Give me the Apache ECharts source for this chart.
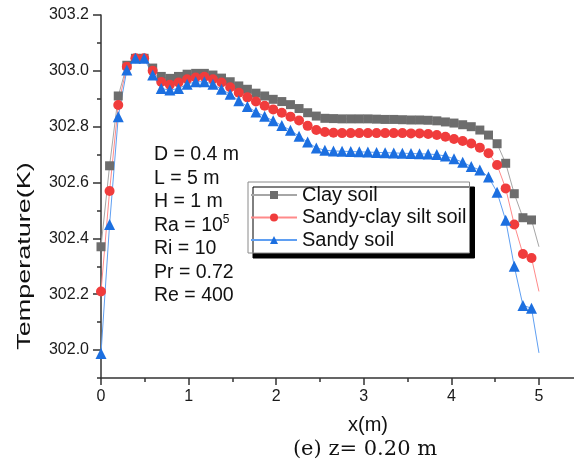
<!DOCTYPE html>
<html><head><meta charset="utf-8">
<script src="https://cdn.jsdelivr.net/npm/echarts@6/dist/echarts.min.js"></script>
<style>html,body{margin:0;padding:0;background:#fff}#c{width:574px;height:464px}</style>
</head><body><div id="c"></div>
<script>
const xs = [0, 0.098, 0.197, 0.295, 0.393, 0.492, 0.590, 0.688, 0.786, 0.885,
  0.983, 1.081, 1.180, 1.278, 1.376, 1.475, 1.573, 1.671, 1.769, 1.868,
  1.966, 2.064, 2.163, 2.261, 2.359, 2.458, 2.556, 2.654, 2.752, 2.851,
  2.949, 3.047, 3.146, 3.244, 3.342, 3.441, 3.539, 3.637, 3.735, 3.834,
  3.932, 4.030, 4.129, 4.227, 4.325, 4.424, 4.522, 4.620, 4.718, 4.817,
  4.915, 5.0];
const clay = [302.37, 302.66, 302.91, 303.02, 303.045, 303.045, 303.01, 302.98, 302.973, 302.98,
  302.988, 302.991, 302.991, 302.985, 302.974, 302.961, 302.946, 302.934, 302.92, 302.91,
  302.898, 302.89, 302.879, 302.865, 302.85, 302.838, 302.83, 302.829, 302.828, 302.828,
  302.828, 302.828, 302.827, 302.826, 302.826, 302.825, 302.824, 302.824, 302.823, 302.821,
  302.817, 302.813, 302.807, 302.80, 302.788, 302.77, 302.739, 302.669, 302.56, 302.474,
  302.466, 302.37];
const sandyClay = [302.21, 302.57, 302.878, 303.015, 303.045, 303.045, 303.0, 302.96, 302.95, 302.958,
  302.97, 302.976, 302.979, 302.97, 302.958, 302.941, 302.922, 302.905, 302.89, 302.875,
  302.862, 302.85, 302.836, 302.822, 302.803, 302.788, 302.781, 302.778, 302.777, 302.777,
  302.777, 302.777, 302.777, 302.777, 302.777, 302.777, 302.776, 302.776, 302.774, 302.77,
  302.764, 302.756, 302.749, 302.74, 302.725, 302.705, 302.663, 302.579, 302.45, 302.344,
  302.33, 302.21];
const sandy = [301.988, 302.45, 302.836, 303.003, 303.045, 303.045, 302.985, 302.937, 302.931, 302.937,
  302.952, 302.961, 302.961, 302.952, 302.934, 302.916, 302.893, 302.872, 302.853, 302.837,
  302.821, 302.804, 302.787, 302.766, 302.745, 302.724, 302.716, 302.713, 302.712, 302.711,
  302.71, 302.709, 302.708, 302.707, 302.706, 302.705, 302.704, 302.703, 302.702, 302.70,
  302.695, 302.685, 302.673, 302.657, 302.645, 302.62, 302.565, 302.465, 302.30, 302.16,
  302.15, 301.99];
const seriesNames = ['Clay soil', 'Sandy-clay silt soil', 'Sandy soil'];
const yTickLabels = [302.0, 302.2, 302.4, 302.6, 302.8, 303.0, 303.2];
const xTickLabels = [0, 1, 2, 3, 4, 5];
const xMinorTicks = [0, 0.5, 1, 1.5, 2, 2.5, 3, 3.5, 4, 4.5, 5];
const notes = ['D = 0.4 m', 'L = 5 m', 'H = 1 m', 'Ra = 10{sup|5}', 'Ri = 10', 'Pr = 0.72', 'Re = 400'];
const yTitle = 'Temperature(K)';
const xTitle = 'x(m)';
const caption = '(e) z= 0.20 m';

const FONT = '"Liberation Sans", Arial, sans-serif';
const AX = '#333';

function toData(ys) {
  return ys.map((y, i) => i === ys.length - 1 ? { value: [xs[i], y], symbol: 'none' } : [xs[i], y]);
}
function mk(name, ys, symbol, size, markColor, lineColor) {
  return {
    name, type: 'line', data: toData(ys), symbol, symbolSize: size,
    showAllSymbol: true, clip: false,
    lineStyle: { color: lineColor, width: 1 },
    itemStyle: { color: markColor, borderWidth: 0 },
    emphasis: { disabled: true }
  };
}

const chart = echarts.init(document.getElementById('c'), null, { renderer: 'canvas' });
chart.setOption({
  animation: false,
  backgroundColor: '#fff',
  grid: { left: 101, top: 15, right: 0, bottom: 86, containLabel: false },
  xAxis: [{
    type: 'value', min: 0, max: 5.4,
    axisLine: { show: true, lineStyle: { color: AX, width: 1.5 } },
    axisTick: { show: true, length: 7, customValues: xTickLabels, lineStyle: { color: AX, width: 1.5 } },
    splitLine: { show: false },
    axisLabel: { fontSize: 16, fontFamily: FONT, color: '#1a1a1a', margin: 11,
      customValues: xTickLabels, formatter: v => String(v) }
  }, {
    type: 'value', min: 0, max: 5.4, position: 'bottom',
    axisLine: { show: false },
    axisTick: { show: true, length: 4, customValues: xMinorTicks, lineStyle: { color: AX, width: 1.5 } },
    axisLabel: { show: false },
    splitLine: { show: false }
  }],
  yAxis: [{
    type: 'value', min: 301.9, max: 303.2,
    axisLine: { show: true, lineStyle: { color: AX, width: 1.5 } },
    axisTick: { show: true, length: 8, customValues: yTickLabels, lineStyle: { color: AX, width: 1.5 } },
    splitLine: { show: false },
    axisLabel: { fontSize: 16, fontFamily: FONT, color: '#1a1a1a', margin: 12,
      customValues: yTickLabels, formatter: v => v.toFixed(1) }
  }, {
    type: 'value', min: 301.9, max: 303.2, interval: 0.1, position: 'left',
    axisLine: { show: false },
    axisTick: { show: true, length: 4, lineStyle: { color: AX, width: 1.5 } },
    axisLabel: { show: false },
    splitLine: { show: false }
  }],
  legend: {
    orient: 'vertical', left: 248, top: 182,
    itemWidth: 46, itemHeight: 10, itemGap: 2.5,
    padding: [3, 3, 3, 2],
    backgroundColor: '#fff', borderColor: '#8a8a8a', borderWidth: 1,
    shadowColor: '#000', shadowBlur: 0, shadowOffsetX: 5, shadowOffsetY: 5,
    textStyle: { fontSize: 20, fontFamily: FONT, color: '#111', lineHeight: 20 },
    data: seriesNames
  },
  graphic: [
    { type: 'text', left: 154, top: 143, z: 10,
      style: { text: notes.join('\n'), fontSize: 19.5, fontFamily: FONT, fill: '#111', lineHeight: 23.5,
        rich: { sup: { fontSize: 12, fontFamily: FONT, fill: '#111', verticalAlign: 'top', lineHeight: 14 } } } },
    { type: 'text', x: 25, y: 256, rotation: Math.PI / 2, scaleX: 1.5, z: 10,
      style: { text: yTitle, fontSize: 18, fontFamily: FONT, fill: '#111', align: 'center', verticalAlign: 'middle' } },
    { type: 'text', x: 368, y: 425, z: 10,
      style: { text: xTitle, fontSize: 20, fontFamily: FONT, fill: '#111', align: 'center', verticalAlign: 'middle' } },
    { type: 'text', x: 365, y: 450, z: 10,
      style: { text: caption, fontSize: 21, fontFamily: '"DejaVu Serif", serif', fill: '#111', align: 'center', verticalAlign: 'middle' } }
  ],
  series: [
    mk(seriesNames[0], clay, 'rect', 9, '#6d6d6d', '#a6a6a6'),
    mk(seriesNames[1], sandyClay, 'circle', 10, '#f03c3c', '#ff8a8a'),
    mk(seriesNames[2], sandy, 'triangle', 11, '#1c6fe0', '#5f9ff2')
  ]
});
</script></body></html>
